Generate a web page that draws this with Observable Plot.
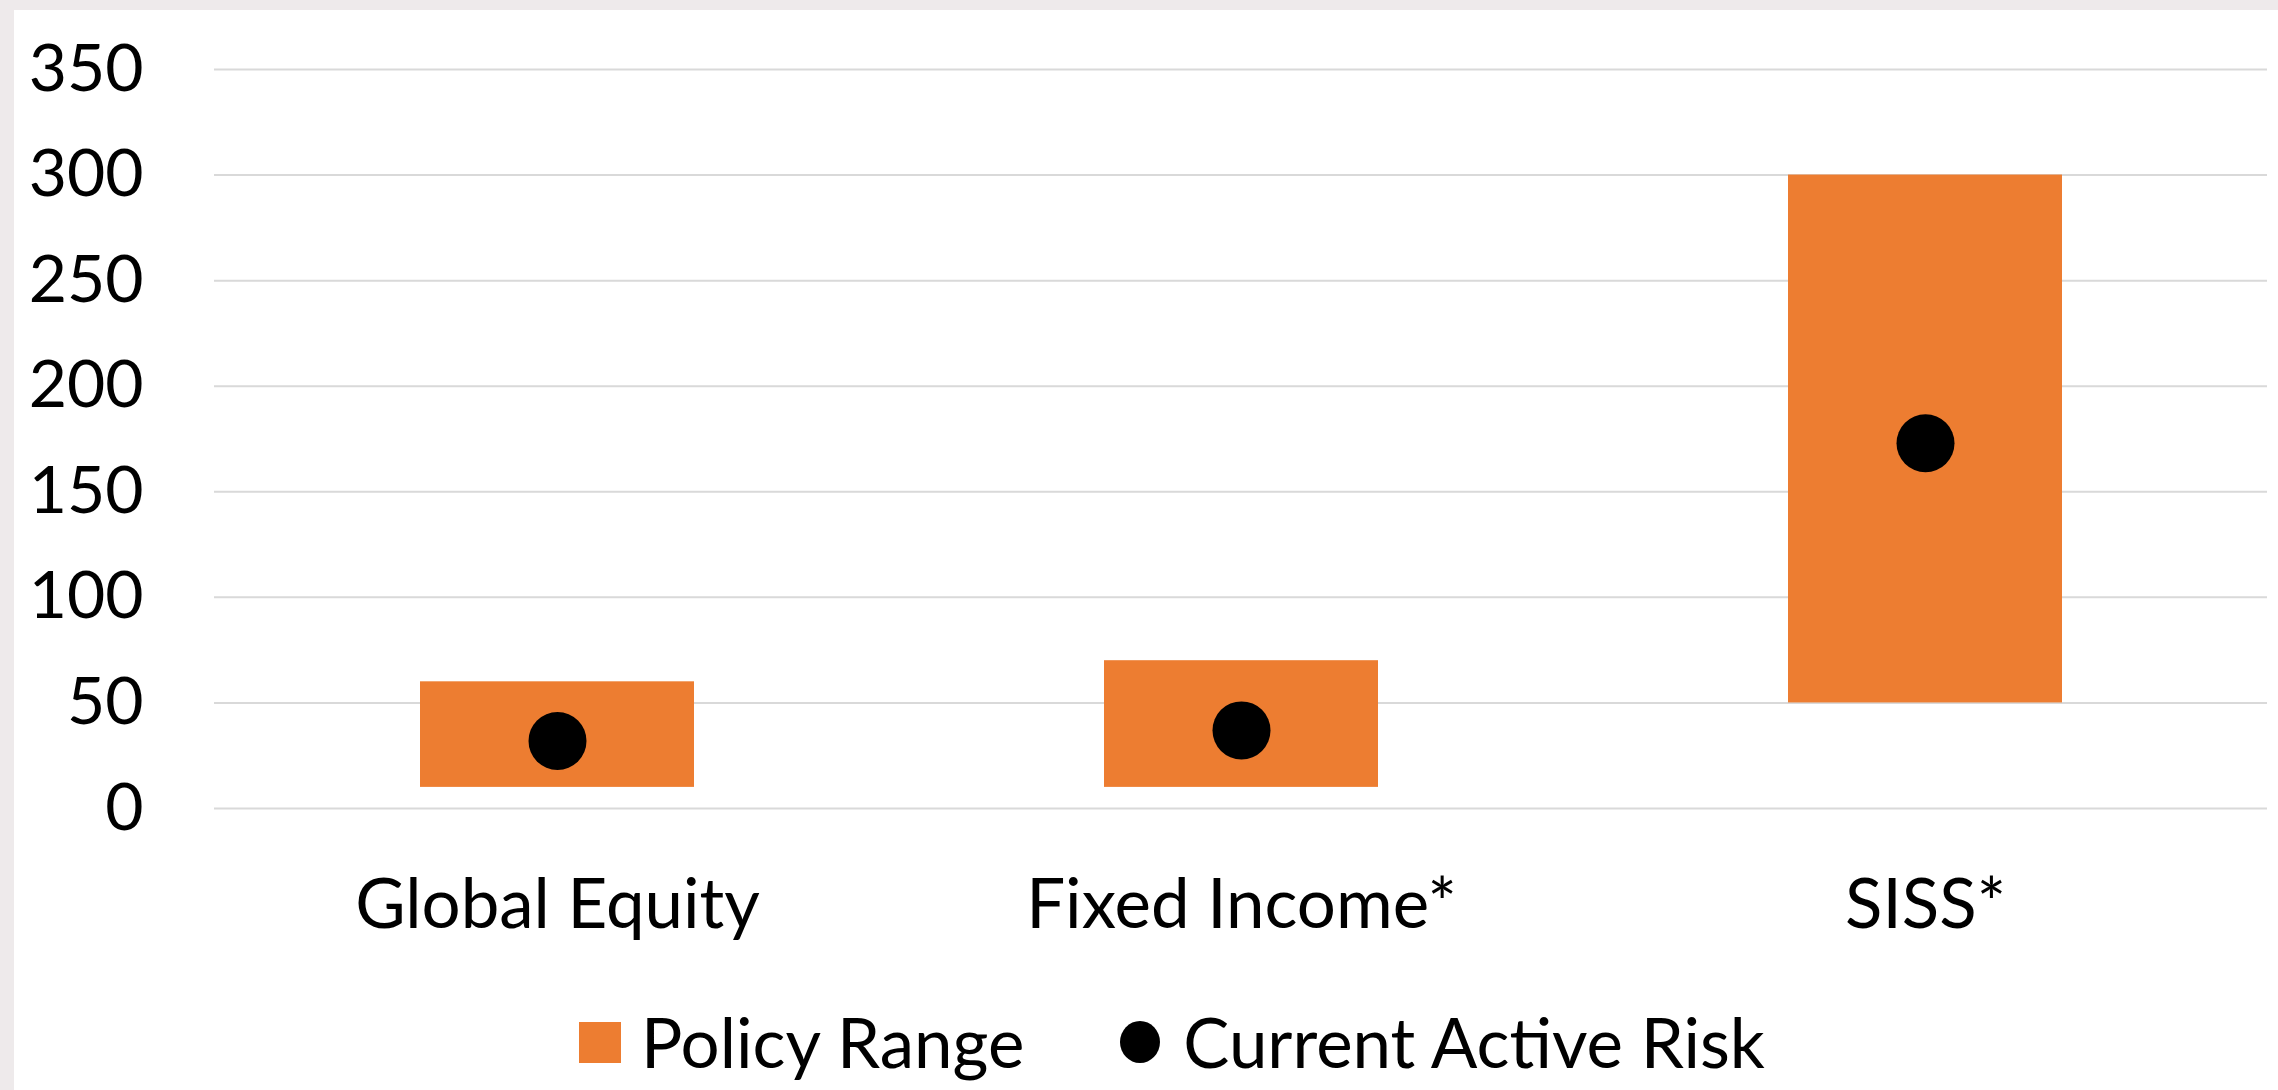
<!DOCTYPE html>
<html>
<head>
<meta charset="utf-8">
<script src="https://cdn.jsdelivr.net/npm/d3@7"></script>
<script src="https://cdn.jsdelivr.net/npm/@observablehq/plot@0.6"></script>
<style>
  html, body { margin: 0; padding: 0; background: #ffffff; width: 2278px; height: 1090px; overflow: hidden; font-family: Lato, "Noto Sans", sans-serif; }
  #borderLeft { position: absolute; left: 0; top: 0; width: 14px; height: 1090px; background: #EEEAEB; }
  #borderTop { position: absolute; left: 0; top: 0; width: 2278px; height: 10px; background: #EEEAEB; }
  #chart { position: absolute; left: 14px; top: 10px; }
  #legend { position: absolute; left: 579px; top: 997px; height: 90px; display: flex; align-items: center; font-family: Lato, sans-serif; font-size: 69px; line-height: 90px; color: #000; white-space: nowrap; }
  .sw { display: inline-block; }
</style>
</head>
<body>
<div id="borderLeft"></div>
<div id="borderTop"></div>
<div id="chart"></div>
<div id="legend"></div>
<script>
const categories = ["Global Equity", "Fixed Income*", "SISS*"];
const rangeLow = [10, 10, 50];
const rangeHigh = [60, 70, 300];
const currentRisk = [32, 37, 173];
const yTicks = [0, 50, 100, 150, 200, 250, 300, 350];
const legendLabels = ["Policy Range", "Current Active Risk"];

const rows = categories.map((c, i) => ({category: c, low: rangeLow[i], high: rangeHigh[i], risk: currentRisk[i]}));

const plot = Plot.plot({
  width: 2264,
  height: 940,
  marginLeft: 200,
  marginRight: 11,
  marginTop: 59,
  marginBottom: 142,
  style: {fontFamily: "Lato, sans-serif", fontSize: "66px", color: "#000", background: "transparent", overflow: "visible"},
  x: {domain: categories, paddingInner: 0.6, paddingOuter: 0.3, label: null},
  y: {domain: [0, 350], label: null},
  marks: [
    Plot.gridY(yTicks, {stroke: "#D9D9D9", strokeOpacity: 1, strokeWidth: 2}),
    Plot.axisY(yTicks, {tickSize: 0, tickPadding: 71, fontSize: 66, label: null}),
    Plot.axisX({tickSize: 0, tickPadding: 70, fontSize: 69, label: null}),
    Plot.barY(rows, {x: "category", y1: "low", y2: "high", fill: "#ED7D31"}),
    Plot.dot(rows, {x: "category", y: "risk", r: 29, fill: "#000000", stroke: "none"})
  ]
});
document.getElementById("chart").appendChild(plot);

const legend = document.getElementById("legend");
legend.innerHTML = `
  <span class="sw" style="width:42px;height:41px;background:#ED7D31;margin-right:20px;"></span>
  <span>${legendLabels[0]}</span>
  <span class="sw" style="width:40px;height:42px;border-radius:50%;background:#000;margin-left:96px;margin-right:23px;"></span>
  <span>${legendLabels[1]}</span>`;
</script>
</body>
</html>
